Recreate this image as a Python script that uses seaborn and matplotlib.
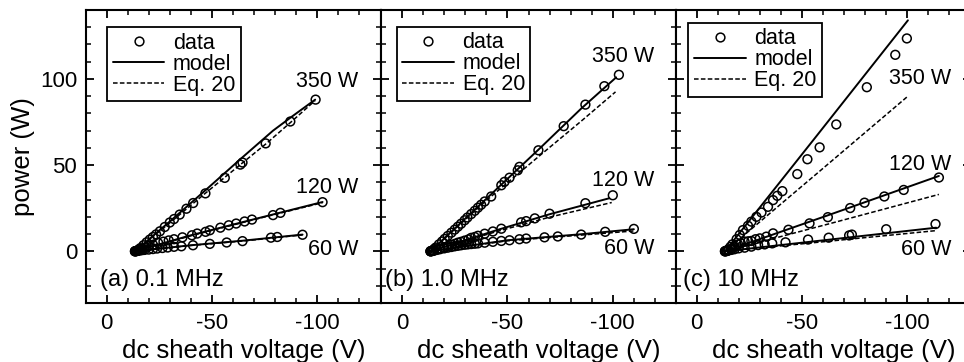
import numpy as np
import pandas as pd
import matplotlib
matplotlib.use("Agg")
import matplotlib.pyplot as plt
from matplotlib.lines import Line2D
from matplotlib.ticker import MultipleLocator, FixedLocator
import seaborn as sns

# ---------------- data ----------------
panel_titles = ["(a) 0.1 MHz", "(b) 1.0 MHz", "(c) 10 MHz"]
power_labels = ["350 W", "120 W", "60 W"]

# (a) 0.1 MHz
a350_v = [-13.5, -14, -14.5, -15.2, -16, -17.5, -19, -20.5, -22, -23.5, -25.3, -27.6, -30,
          -32, -34.7, -37.9, -41.1, -46.9, -56.1, -63.5, -64.5, -75.5, -87.2, -99.2]
a350_p = [0.0, 0.1, 0.3, 1.0, 1.8, 3.5, 5.2, 6.8, 8.3, 9.8, 11.6, 14.1, 16.7,
          18.7, 21.3, 24.7, 28.0, 33.6, 42.6, 50.3, 51.5, 62.6, 75.3, 88.0]
a350_model_v = [-13.5, -30, -47, -64, -79, -88, -99]
a350_model_p = [0, 17.3, 35.5, 54.0, 70.0, 78.2, 88.0]
a350_eq20_v = [-13.5, -30, -47, -64, -76, -88, -99]
a350_eq20_p = [0, 16.5, 33.8, 50.8, 62.7, 75.5, 87.5]

a120_v = [-13.5, -14.2, -15, -16, -17, -18, -20, -22, -24.5, -27, -29.5, -32, -36, -40.5,
          -43, -47, -49, -54, -58, -61.5, -65.5, -69, -79, -82.5, -102.5]
a120_p = [0.0, 0.2, 0.5, 1.0, 1.5, 2.0, 3.0, 3.8, 4.8, 5.6, 6.3, 7.0, 8.1, 9.3,
          10.3, 11.3, 12.2, 13.7, 15.1, 16.1, 17.3, 18.4, 21.0, 22.3, 28.5]
a120_model_v = [-13.5, -40, -70, -102.5]
a120_model_p = [0, 9.3, 18.6, 28.6]
a120_eq20_v = [-13.5, -40, -70, -102.5]
a120_eq20_p = [0, 9.0, 18.4, 28.2]

a60_v = [-13.5, -14.2, -15, -16, -17, -18, -20, -22, -24, -26.5, -29, -32, -35.5, -41,
         -49, -57, -64.5, -78, -81, -93]
a60_p = [0.0, 0.1, 0.3, 0.5, 0.7, 0.8, 1.0, 1.3, 1.6, 1.9, 2.2, 2.6, 2.9, 3.5,
         4.3, 5.1, 5.9, 7.9, 8.3, 9.6]
a60_model_v = [-13.5, -40, -65, -93]
a60_model_p = [0, 3.5, 6.2, 9.7]
a60_eq20_v = [-13.5, -40, -65, -93]
a60_eq20_p = [0, 3.4, 6.0, 9.5]

# (b) 1.0 MHz
b350_v = [-13.5, -14, -14.5, -15.2, -16, -17.5, -19, -20.2, -21.7, -23.4, -25, -26.5, -28,
          -29.7, -31, -32.8, -34.5, -36, -37.5, -39.2, -42.3, -47.1, -48.6, -51, -54.9,
          -55.7, -64.7, -76.7, -87, -96, -102.9]
b350_p = [0.0, 0.2, 0.5, 1.3, 2.2, 4.0, 5.7, 7.2, 8.9, 10.8, 12.6, 14.3, 16.0,
          18.0, 19.6, 21.6, 23.5, 25.3, 27.0, 28.9, 31.8, 38.3, 40.3, 42.7, 47.0,
          49.0, 58.6, 72.6, 85.1, 95.8, 102.4]
b350_model_v = [-13.5, -40, -65, -85, -101.6]
b350_model_p = [0, 30.5, 59.3, 82.8, 100.9]
b350_eq20_v = [-13.5, -40, -66, -85, -101.3]
b350_eq20_p = [0, 29.5, 56.2, 75.5, 92.5]

b120_v = [-13.5, -14.2, -15, -16.5, -18, -20, -21.7, -23.4, -25, -26.5, -28, -29.7, -31.5,
          -32.8, -34.5, -36, -39.2, -43.1, -47.1, -56.5, -58.9, -63, -70, -87, -100]
b120_p = [0.0, 0.2, 0.4, 1.0, 1.6, 2.4, 3.0, 3.7, 4.3, 5.0, 5.5, 6.2, 6.9,
          7.8, 8.3, 9.0, 10.2, 11.5, 13.1, 16.8, 17.5, 19.1, 21.8, 27.9, 32.5]
b120_model_v = [-13.5, -45, -70, -98.4]
b120_model_p = [0, 12.3, 21.5, 30.8]
b120_eq20_v = [-13.5, -45, -70, -99.5]
b120_eq20_p = [0, 11.5, 19.8, 28.3]

b60_v = [-13.5, -14.2, -15, -16.5, -18, -20, -21.7, -23.4, -25, -26.5, -28, -29.7, -31.2,
         -32.8, -34.5, -36, -39.2, -43.1, -47.1, -51, -55.7, -58.9, -67.6, -73.9, -85,
         -96.4, -110]
b60_p = [0.0, 0.1, 0.3, 0.8, 1.2, 1.7, 2.1, 2.5, 2.9, 3.2, 3.5, 3.8, 4.0,
         4.2, 4.4, 4.6, 5.0, 5.5, 6.0, 6.4, 7.0, 7.4, 8.1, 8.6, 9.7,
         11.3, 13.0]
b60_model_v = [-13.5, -50, -85, -110]
b60_model_p = [0, 6.4, 9.9, 12.8]
b60_eq20_v = [-13.5, -50, -85, -110]
b60_eq20_p = [0, 6.1, 9.4, 11.8]

# (c) 10 MHz
c350_v = [-13.5, -14.2, -15, -16, -17, -19, -20.5, -22, -24.4, -26, -28.4, -30.8, -33.9,
          -36.3, -38.3, -40.7, -47.8, -52.6, -58.4, -66.3, -80.8, -94.3, -99.8]
c350_p = [0.0, 0.4, 1.0, 2.5, 4.0, 7.0, 9.5, 12.3, 14.8, 17.2, 20.0, 22.5, 25.8,
          29.7, 32.2, 34.9, 44.8, 53.4, 60.3, 73.6, 95.2, 114.0, 123.5]
c350_model_v = [-13.5, -57, -100.3]
c350_model_p = [0, 67.0, 134.0]
c350_eq20_v = [-13.5, -57, -100.3]
c350_eq20_p = [0, 45.0, 90.0]

c120_v = [-13.5, -14.2, -15, -16.5, -18, -19.7, -21, -22.8, -24.5, -26, -28, -30, -33.1,
          -36.3, -43.6, -53.6, -62.3, -72.9, -79.7, -89.1, -98.3, -115]
c120_p = [0.0, 0.2, 0.5, 1.3, 2.5, 4.0, 4.6, 5.6, 5.8, 6.0, 7.0, 7.5, 8.5,
          10.4, 12.5, 16.2, 19.8, 25.1, 28.2, 31.8, 35.6, 42.8]
c120_model_v = [-13.5, -64, -115]
c120_model_p = [0, 21.6, 43.7]
c120_eq20_v = [-13.5, -64, -115]
c120_eq20_p = [0, 16.3, 33.0]

c60_v = [-13.5, -14.2, -15, -16.5, -18, -20, -22.8, -26, -29.2, -32.3, -35.9, -42.2,
         -52.9, -62.7, -72.4, -73.7, -90, -113.4]
c60_p = [0.0, 0.1, 0.4, 0.8, 1.2, 1.7, 2.1, 2.7, 3.6, 4.0, 4.6, 5.2,
         6.8, 7.9, 9.2, 9.7, 12.8, 15.8]
c60_model_v = [-13.5, -64, -113.7]
c60_model_p = [0, 6.9, 13.7]
c60_eq20_v = [-13.5, -64, -113.7]
c60_eq20_p = [0, 6.0, 12.0]

panels = [
    [(a350_v, a350_p, a350_model_v, a350_model_p, a350_eq20_v, a350_eq20_p),
     (a120_v, a120_p, a120_model_v, a120_model_p, a120_eq20_v, a120_eq20_p),
     (a60_v, a60_p, a60_model_v, a60_model_p, a60_eq20_v, a60_eq20_p)],
    [(b350_v, b350_p, b350_model_v, b350_model_p, b350_eq20_v, b350_eq20_p),
     (b120_v, b120_p, b120_model_v, b120_model_p, b120_eq20_v, b120_eq20_p),
     (b60_v, b60_p, b60_model_v, b60_model_p, b60_eq20_v, b60_eq20_p)],
    [(c350_v, c350_p, c350_model_v, c350_model_p, c350_eq20_v, c350_eq20_p),
     (c120_v, c120_p, c120_model_v, c120_model_p, c120_eq20_v, c120_eq20_p),
     (c60_v, c60_p, c60_model_v, c60_model_p, c60_eq20_v, c60_eq20_p)],
]

# label anchor points (voltage, power) for the power annotations
label_v = [-119.3, -119.7, -120.8]
label_p = [[98.6, 37.2, 1.3], [113.0, 40.8, 1.9], [100.2, 50.5, 1.3]]
title_v = [3.2, 7.9, 6.4]
legend_anchor = [(0.074, 0.941), (0.054, 0.942), (0.044, 0.956)]

# ---------------- style ----------------
sns.set_theme(style="ticks")
plt.rcParams["font.family"] = ["Liberation Sans", "DejaVu Sans"]
plt.rcParams["axes.unicode_minus"] = False
plt.rcParams["axes.linewidth"] = 1.5
plt.rcParams["axes.edgecolor"] = "black"
plt.rcParams["text.color"] = "black"
plt.rcParams["axes.labelcolor"] = "black"
plt.rcParams["xtick.color"] = "black"
plt.rcParams["ytick.color"] = "black"

W, H = 964, 362
fig = plt.figure(figsize=(W / 100, H / 100), dpi=100)
lefts = [85.5, 381.0, 675.5]
ax_w = 295.0
ax_bottom, ax_top = 303.0, 10.0

dash = (0, (3.0, 1.5))

for i, left in enumerate(lefts):
    ax = fig.add_axes([left / W, 1 - ax_bottom / H, ax_w / W, (ax_bottom - ax_top) / H])
    ax.set_facecolor("white")
    for (dv, dp, mv, mp, ev, ep) in panels[i]:
        sns.lineplot(x=mv, y=mp, ax=ax, color="black", lw=1.4, sort=False,
                     estimator=None)
        sns.lineplot(x=ev, y=ep, ax=ax, color="black", lw=1.1, sort=False,
                     estimator=None, linestyle=dash)
        sns.scatterplot(x=dv, y=dp, ax=ax, marker="o", s=40, linewidth=1.1,
                        edgecolor="black", color="black")
        ax.collections[-1].set_facecolor("none")
        ax.collections[-1].set_edgecolor("black")

    for lab, lp in zip(power_labels, label_p[i]):
        ax.text(label_v[i], lp, lab, ha="right", va="center", fontsize=15.5,
                color="black")
    ax.text(title_v[i], -16.6, panel_titles[i], ha="left", va="center",
            fontsize=17, color="black")

    ax.set_xlim(10, -130)
    ax.set_ylim(-30, 140)
    ax.xaxis.set_major_locator(FixedLocator([0, -50, -100]))
    ax.xaxis.set_minor_locator(MultipleLocator(10))
    ax.yaxis.set_major_locator(FixedLocator([0, 50, 100]))
    ax.yaxis.set_minor_locator(MultipleLocator(10))
    ax.tick_params(which="both", direction="in", top=True, right=True,
                   color="black", labelsize=16, labelcolor="black")
    ax.tick_params(which="major", length=6, width=1.3)
    ax.tick_params(which="minor", length=3.5, width=1.1)
    ax.tick_params(axis="x", pad=7)
    ax.tick_params(axis="y", pad=6)
    for sp in ax.spines.values():
        sp.set_visible(True)
        sp.set_linewidth(1.5)
        sp.set_color("black")
    ax.set_xlabel("dc sheath voltage (V)", fontsize=18.5, color="black")
    ax.xaxis.set_label_coords(0.535, -0.188, transform=ax.transAxes)
    ax.xaxis.label.set_va("baseline")
    if i == 0:
        ax.set_ylabel("power (W)", fontsize=18.5, color="black")
        ax.yaxis.set_label_coords(-0.17, 0.5, transform=ax.transAxes)
    else:
        ax.set_ylabel("")
        ax.tick_params(axis="y", labelleft=False)

    handles = [
        Line2D([], [], marker="o", ls="none", mfc="none", mec="black", ms=6.3, mew=1.1),
        Line2D([], [], color="black", lw=1.4),
        Line2D([], [], color="black", lw=1.1, linestyle=dash),
    ]
    leg = ax.legend(handles, ["data", "model", "Eq. 20"], loc="upper left",
                    bbox_to_anchor=legend_anchor[i], borderaxespad=0,
                    fontsize=15.5, frameon=True, fancybox=False, numpoints=1,
                    handlelength=2.4, handletextpad=0.4, labelspacing=0.0,
                    borderpad=0.25)
    leg.get_frame().set_edgecolor("black")
    leg.get_frame().set_linewidth(1.3)
    leg.get_frame().set_alpha(1)
    for t in leg.get_texts():
        t.set_color("black")

fig.savefig("out.png", dpi=100, facecolor="white")
